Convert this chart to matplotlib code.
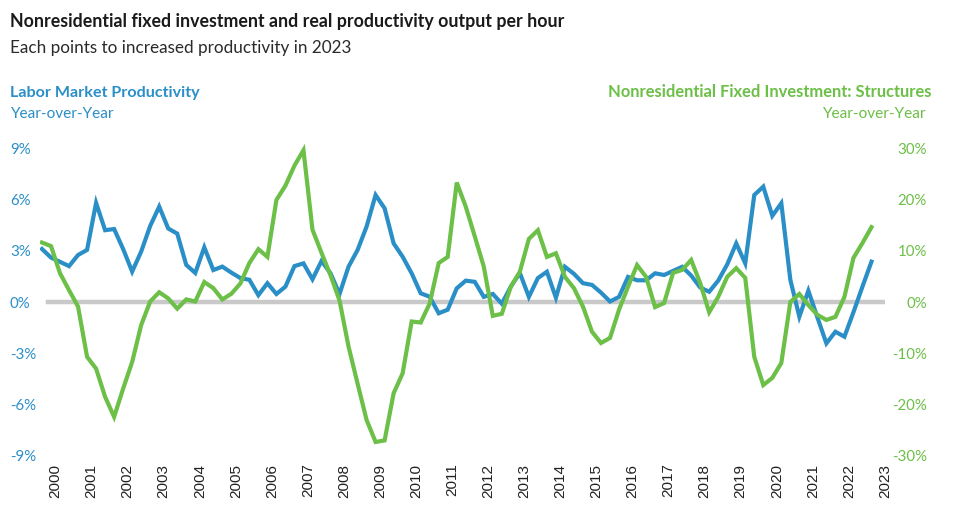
import matplotlib
matplotlib.use("Agg")
import matplotlib.pyplot as plt
import numpy as np

# Quarterly data, 2000 Q1 .. 2023 Q1
productivity = [3.1, 2.6, 2.35, 2.1, 2.75, 3.05, 5.8, 4.2, 4.27, 3.1,
                1.78, 2.95, 4.45, 5.58, 4.3, 4.0, 2.17, 1.7, 3.2, 1.87,
                2.07, 1.72, 1.4, 1.3, 0.4, 1.1, 0.47, 0.9, 2.1, 2.26,
                1.33, 2.4, 1.68, 0.47, 2.07, 3.04, 4.41, 6.26, 5.48, 3.43,
                2.65, 1.68, 0.51, 0.31, -0.66, -0.45, 0.8, 1.25, 1.18, 0.3,
                0.47, -0.1, 0.9, 1.7, 0.3, 1.4, 1.77, 0.25, 2.06, 1.65,
                1.1, 1.0, 0.55, 0.03, 0.3, 1.47, 1.27, 1.27, 1.68, 1.58,
                1.82, 2.06, 1.55, 0.85, 0.6, 1.25, 2.2, 3.43, 2.26, 6.26,
                6.75, 5.04, 5.78, 1.3, -0.86, 0.66, -0.9, -2.42, -1.74, -2.03,
                -0.6, 0.9, 2.36]
structures = [11.6, 10.9, 5.6, 2.3, -0.9, -10.7, -13.0, -18.5, -22.4, -16.9,
              -11.7, -4.5, 0.1, 1.9, 0.7, -1.3, 0.5, 0.1, 3.9, 2.7,
              0.5, 1.6, 3.6, 7.6, 10.3, 8.8, 19.9, 22.7, 26.6, 29.6,
              14.1, 9.6, 5.2, 0.3, -8.7, -15.9, -23.0, -27.3, -27.0, -17.8,
              -13.9, -3.8, -4.0, -0.3, 7.6, 8.8, 23.3, 18.6, 12.8, 6.9,
              -2.7, -2.3, 3.0, 5.9, 12.3, 14.0, 8.8, 9.5, 4.9, 2.7,
              -0.9, -5.8, -8.0, -7.0, -1.5, 3.0, 7.2, 4.9, -1.0, -0.2,
              5.7, 6.25, 8.2, 3.7, -2.0, 1.0, 4.9, 6.6, 4.7, -10.7,
              -16.2, -14.8, -11.9, 0.0, 1.56, -0.6, -2.5, -3.5, -2.9, 1.0,
              8.6, 11.5, 14.6]
start_year = 2000
years = list(range(2000, 2024))
left_ticks = [-9, -6, -3, 0, 3, 6, 9]
right_ticks = [-30, -20, -10, 0, 10, 20, 30]

BLUE = "#2B8FC7"
GREEN = "#6CBF47"
FONT = ["Lato", "DejaVu Sans"]
plt.rcParams["font.family"] = FONT

W, H = 954, 519
fig = plt.figure(figsize=(W / 100, H / 100), dpi=100)

# pixel geometry
px_left, px_right = 40, 885
px_top, px_bottom = 140, 465
x_first, x_last = 42, 872
zero_y = 302
px_per_pct = 17.09

ax = fig.add_axes([px_left / W, 1 - px_bottom / H,
                   (px_right - px_left) / W, (px_bottom - px_top) / H])
ax2 = ax.twinx()

t = start_year + np.arange(len(productivity)) / 4.0
ppy = (x_last - x_first) / (t[-1] - t[0])
xlim = (t[0] - (x_first - px_left) / ppy, t[-1] + (px_right - x_last) / ppy)
ylim = ((zero_y - px_bottom) / px_per_pct, (zero_y - px_top) / px_per_pct)
ax.set_xlim(*xlim)
ax.set_ylim(*ylim)
ax2.set_ylim(ylim[0] * 10 / 3, ylim[1] * 10 / 3)

# zero line
z0 = (48 - px_left) / (px_right - px_left)
z1 = (883 - px_left) / (px_right - px_left)
ax.axhline(0, xmin=z0, xmax=z1, color="#C9C9C9", lw=3.2, zorder=1)

ax.plot(t, productivity, color=BLUE, lw=3.0, solid_joinstyle="miter", zorder=3)
ax2.plot(t, structures, color=GREEN, lw=3.0, solid_joinstyle="miter", zorder=3)

for a in (ax, ax2):
    for s in a.spines.values():
        s.set_visible(False)
    a.tick_params(length=0)

ax.set_xticks([y + 0.375 for y in years])
ax.set_xticklabels([str(y) for y in years], rotation=90, fontsize=11,
                   family=["Liberation Sans", "DejaVu Sans"], color="#222222")
ax.tick_params(axis="x", pad=-1)

ax.set_yticks(left_ticks)
ax.set_yticklabels([f"{v}%" for v in left_ticks], fontsize=10.8, color=BLUE)
for lab in ax.get_yticklabels():
    lab.set_horizontalalignment("left")
ax.tick_params(axis="y", pad=(px_left - 10) * 0.72)

ax2.set_yticks(right_ticks)
ax2.set_yticklabels([f"{v}%" for v in right_ticks], fontsize=10.8, color=GREEN)
for lab in ax2.get_yticklabels():
    lab.set_horizontalalignment("right")
ax2.tick_params(axis="y", pad=(927 - px_right) * 0.72)

# titles
fig.text(10 / W, 1 - 22 / H, "Nonresidential fixed investment and real productivity output per hour",
         fontsize=12.8, fontweight="bold", color="#1a1a1a", va="center", ha="left")
fig.text(10 / W, 1 - 48 / H, "Each points to increased productivity in 2023",
         fontsize=12.3, color="#2a2a2a", va="center", ha="left")
fig.text(10 / W, 1 - 93 / H, "Labor Market Productivity",
         fontsize=11.6, fontweight="bold", color=BLUE, va="center", ha="left")
fig.text(10 / W, 1 - 114 / H, "Year-over-Year",
         fontsize=11.1, color=BLUE, va="center", ha="left")
fig.text(932 / W, 1 - 92 / H, "Nonresidential Fixed Investment: Structures",
         fontsize=11.9, fontweight="bold", color=GREEN, va="center", ha="right")
fig.text(926 / W, 1 - 114 / H, "Year-over-Year",
         fontsize=11.1, color=GREEN, va="center", ha="right")

fig.savefig("out.png", dpi=100, facecolor="white")
